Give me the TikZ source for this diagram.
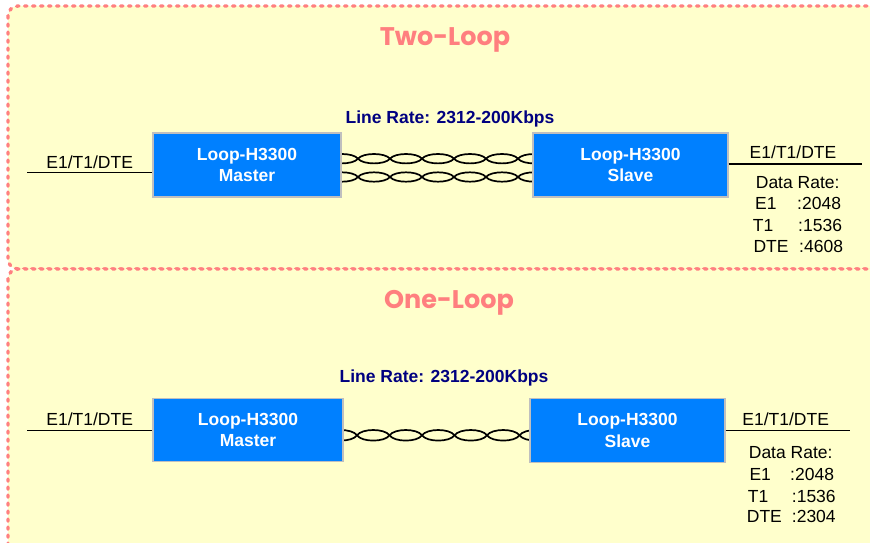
\documentclass[tikz,border=0pt]{standalone}
\usepackage{fontspec}
\setmainfont{Liberation Sans}
\newfontfamily\titlefont{Poppins}
\definecolor{bg}{HTML}{FFFFCC}
\definecolor{pinkdash}{HTML}{FF8080}
\definecolor{boxblue}{HTML}{0080FF}
\definecolor{navy}{HTML}{000080}
\definecolor{titlepink}{HTML}{FF7F7F}
% #1 ymid, #2 amplitude, #3 first crossing, #4 period, #5 number of segments
\newcommand\twistpair[5]{%
  \foreach \s in {1,-1}{
    \draw[strand] ({#3-#4},#1)
      \foreach \k in {0,...,#5}{
        .. controls ({#3+(\k-1)*#4+0.15*#4},{#1-\s*1.33*#2*(1-2*mod(\k,2))})
                and ({#3+\k*#4-0.15*#4},{#1-\s*1.33*#2*(1-2*mod(\k,2))}) ..
        ({#3+\k*#4},#1)
      };
  }}
\begin{document}
\begin{tikzpicture}[x=1pt,y=-1pt,
  panel/.style={fill=bg, draw=pinkdash, line width=3.4pt, dash pattern=on 2.2pt off 5.8pt, line cap=round, rounded corners=10pt},
  unit/.style={fill=boxblue, draw=black!25, line width=1.2pt, text=white, font=\fontsize{17.5}{21.7}\selectfont\bfseries, align=center, inner sep=0pt},
  lbl/.style={font=\fontsize{17.5}{21}\selectfont, inner sep=0pt, text=black},
  rate/.style={font=\fontsize{17.5}{21}\selectfont\bfseries, text=navy, inner sep=0pt},
  ttl/.style={font=\titlefont\fontsize{25.5}{30}\selectfont\bfseries, text=titlepink, inner sep=0pt},
  wire/.style={line width=1.3pt, black},
  strand/.style={line width=1.7pt, black}
]
\useasboundingbox (0,0) rectangle (870,543);
\clip (0,0) rectangle (870,543);
\fill[white] (0,0) rectangle (870,543);
% panels
\draw[panel] (8,6) rectangle (890,269);
\draw[panel] (8,269) rectangle (890,560);
% titles
\node[ttl, anchor=base] (t1) at (445,46) {Two-Loop};
\node[ttl, anchor=base] (t2) at (449,308) {One-Loop};
% line rates
\node[rate, anchor=base] (lr1) at (450,123.3) {Line Rate: 2312-200Kbps};
\node[rate, anchor=base] (lr2) at (444,382.3) {Line Rate: 2312-200Kbps};
% twisted pairs
\twistpair{158.7}{4.7}{358}{32}{6}
\twistpair{177}{4.7}{358}{32}{6}
\twistpair{435.3}{5.3}{357}{32.5}{6}
% units
\node[unit, minimum width=188pt, minimum height=64pt] (m1) at (247,165) {Loop-H3300\\Master};
\node[unit, minimum width=195pt, minimum height=64pt] (s1) at (630.5,165) {Loop-H3300\\Slave};
\node[unit, minimum width=190pt, minimum height=63.4pt] (m2) at (248,430) {Loop-H3300\\Master};
\node[unit, minimum width=195pt, minimum height=64pt] (s2) at (627.5,430.3) {Loop-H3300\\Slave};
% wires
\coordinate (l1) at (27,172.7);
\coordinate (r1) at (862,164);
\coordinate (l2) at (27,430.3);
\coordinate (r2) at (850,430.3);
\draw[wire] (l1) -- (l1 -| m1.west);
\draw[wire] (s1.east |- r1) -- (r1);
\draw[wire] (l2) -- (l2 -| m2.west);
\draw[wire] (s2.east |- r2) -- (r2);
% labels top
\node[lbl, anchor=base] (a1) at (89.7,168.3) {E1/T1/DTE};
\node[lbl, anchor=base] (b1) at (793,158.3) {E1/T1/DTE};
\node[lbl, anchor=base] (d1) at (797.7,188.3) {Data Rate:};
\node[lbl, anchor=base west] (e1) at (755,209.3) {E1};
\node[lbl, anchor=base west] (e1v) at (797,209.3) {:2048};
\node[lbl, anchor=base west] (f1) at (752.7,231.7) {T1};
\node[lbl, anchor=base west] (f1v) at (798,231.7) {:1536};
\node[lbl, anchor=base west] (g1) at (753.3,252.3) {DTE};
\node[lbl, anchor=base west] (g1v) at (799,252.3) {:4608};
% labels bottom
\node[lbl, anchor=base] (a2) at (89.7,425) {E1/T1/DTE};
\node[lbl, anchor=base] (b2) at (785.7,425.3) {E1/T1/DTE};
\node[lbl, anchor=base] (d2) at (790.7,458.3) {Data Rate:};
\node[lbl, anchor=base west] (e2) at (749.3,480.7) {E1};
\node[lbl, anchor=base west] (e2v) at (790,480.7) {:2048};
\node[lbl, anchor=base west] (f2) at (747.7,502.3) {T1};
\node[lbl, anchor=base west] (f2v) at (791.7,502.3) {:1536};
\node[lbl, anchor=base west] (g2) at (746.7,522.7) {DTE};
\node[lbl, anchor=base west] (g2v) at (791.7,522.7) {:2304};
\end{tikzpicture}
\end{document}
